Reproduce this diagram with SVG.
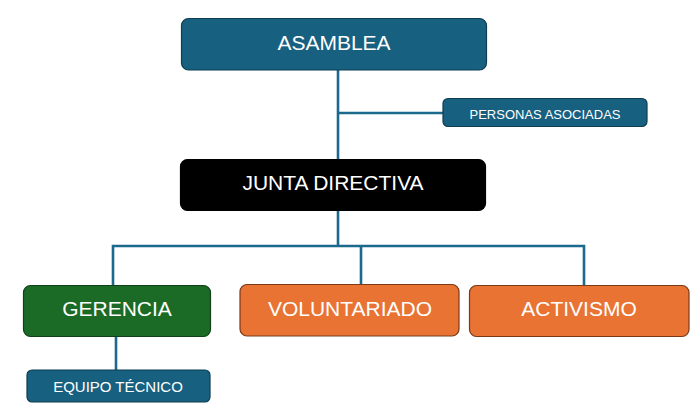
<svg xmlns="http://www.w3.org/2000/svg" width="700" height="414" viewBox="0 0 700 414">
<style>
.box{stroke-width:1.2}
.blue{fill:#18607f;stroke:#0f3d52}
.black{fill:#000000;stroke:#000000}
.green{fill:#1b6a25;stroke:#10401a}
.orange{fill:#e97333;stroke:#7a3a18}
.t{font-family:"Liberation Sans",Arial,sans-serif;fill:#ffffff;text-anchor:middle}
.big{font-size:21px}
.small{font-size:13px}
.mid{font-size:15px}
.conn{stroke:#1b6a8e;stroke-width:2.6;fill:none}
</style>
<rect width="700" height="414" fill="#ffffff"/>
<g id="connectors">
<path class="conn" d="M338 70 V160"/>
<path class="conn" d="M338 113 H443"/>
<path class="conn" d="M338 211 V246"/>
<path class="conn" d="M113 286 V246 H584 V286"/>
<path class="conn" d="M361 246 V285"/>
<path class="conn" d="M116 337 V370"/>
</g>
<g id="asamblea">
<rect class="box blue" x="181.5" y="18.5" width="305" height="51.5" rx="7"/>
<text class="t big" x="334" y="50">ASAMBLEA</text>
</g>
<g id="personas-asociadas">
<rect class="box blue" x="443" y="98.5" width="204" height="28" rx="5"/>
<text class="t small" x="545" y="119">PERSONAS ASOCIADAS</text>
</g>
<g id="junta-directiva">
<rect class="box black" x="180.5" y="159.5" width="305" height="51" rx="7"/>
<text class="t big" x="333" y="190">JUNTA DIRECTIVA</text>
</g>
<g id="gerencia">
<rect class="box green" x="23.5" y="285.5" width="187" height="51" rx="7"/>
<text class="t big" x="117" y="316">GERENCIA</text>
</g>
<g id="voluntariado">
<rect class="box orange" x="240" y="284.5" width="219" height="51.5" rx="7"/>
<text class="t big" x="350" y="315.5">VOLUNTARIADO</text>
</g>
<g id="activismo">
<rect class="box orange" x="469.5" y="285.5" width="219.5" height="51" rx="7"/>
<text class="t big" x="579" y="316">ACTIVISMO</text>
</g>
<g id="equipo-tecnico">
<rect class="box blue" x="27" y="370" width="183" height="32" rx="5"/>
<text class="t mid" x="118" y="392">EQUIPO TÉCNICO</text>
</g>
</svg>
